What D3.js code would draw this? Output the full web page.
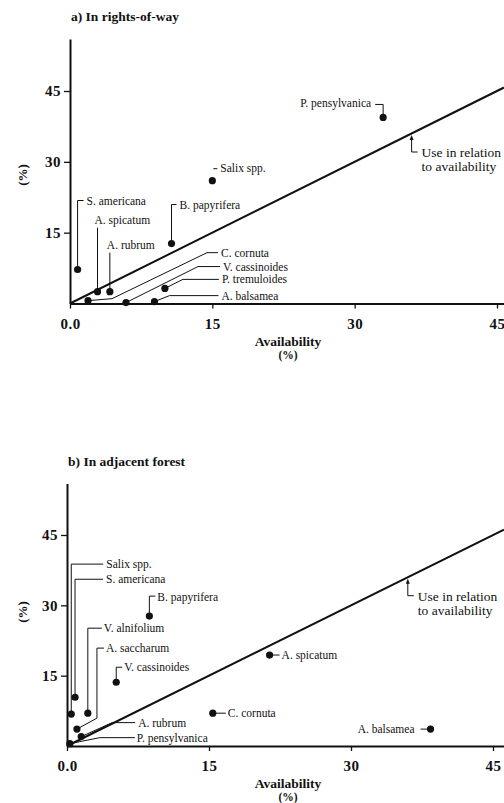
<!DOCTYPE html>
<html>
<head>
    <title></title>
    <meta charset="utf-8">
    <style>
        body { margin: 0; background: #fff; }
        text { font-family: 'Liberation Serif', 'Times New Roman', serif; fill: #111; }
    </style>
</head>
<body>
<script src="https://cdn.jsdelivr.net/npm/d3@7"></script>
<script>
    // a) rights-of-way
    var rowSpecies = ['P. pensylvanica', 'Salix spp.', 'S. americana', 'A. spicatum', 'A. rubrum',
        'B. papyrifera', 'C. cornuta', 'V. cassinoides', 'P. tremuloides', 'A. balsamea'];
    var rowAvail = [33.0, 15.0, 0.8, 2.9, 4.2, 10.7, 1.9, 5.9, 10.0, 8.9];
    var rowUse = [39.4, 26.0, 7.2, 2.5, 2.5, 12.7, 0.6, 0.2, 3.2, 0.4];

    // b) adjacent forest
    var forSpecies = ['Salix spp.', 'S. americana', 'B. papyrifera', 'V. alnifolium', 'A. saccharum',
        'V. cassinoides', 'A. spicatum', 'C. cornuta', 'A. balsamea', 'A. rubrum', 'P. pensylvanica'];
    var forAvail = [0.45, 0.85, 8.7, 2.2, 1.05, 5.2, 21.4, 15.4, 38.4, 1.5, 0.3];
    var forUse = [6.8, 10.4, 27.7, 7.0, 3.6, 13.6, 19.4, 7.0, 3.6, 2.0, 0.5];

    var xTicks = [0, 15, 30, 45];
    var yTicks = [15, 30, 45];
    var yMax = 56;
    var ratioAt = 36; // where the "use in relation" arrow meets the 1:1 line

    // label leaders, pixel offsets from each dot: path points + text spot
    var rowLabels = [
        { pts: [[0, 0], [0, -13], [-8, -13]], t: [-12, -10], anchor: 'end' },
        { pts: [[1, -12], [5, -12]], t: [8, -9] },
        { pts: [[0, 0], [0, -69], [6, -69]], t: [9, -65] },
        { pts: [[0, 0], [0, -64]], t: [-3, -68] },
        { pts: [[0, 0], [0, -39]], t: [-3, -43] },
        { pts: [[0, 0], [0, -39], [5, -39]], t: [8, -35] },
        { pts: [[0, 0], [24, -2], [119, -48], [130, -48]], t: [133, -44] },
        { pts: [[0, 0], [72, -36], [94, -36]], t: [97, -32] },
        { pts: [[0, 0], [18, -9], [54, -9]], t: [57, -5] },
        { pts: [[0, 0], [15, -6], [64, -6]], t: [67, -2] }
    ];
    var forLabels = [
        { pts: [[0, 0], [0, -150], [32, -150]], t: [35, -146] },
        { pts: [[0, 0], [0, -118], [28, -118]], t: [31, -114] },
        { pts: [[0, 0], [0, -20], [6, -20]], t: [8, -15] },
        { pts: [[0, 0], [0, -85], [14, -85]], t: [16, -81] },
        { pts: [[0, 0], [20, -11], [20, -81], [27, -81]], t: [29, -77] },
        { pts: [[0, 0], [0, -15], [6, -15]], t: [8, -11] },
        { pts: [[3, 0], [10, 0]], t: [12, 4] },
        { pts: [[3, 0], [13, 0]], t: [15, 4] },
        { pts: [[-3, 0], [-10, 0]], t: [-16, 4], anchor: 'end' },
        { pts: [[0, 0], [31, -14], [54, -14]], t: [57, -10] },
        { pts: [[0, 0], [30, -6], [65, -6]], t: [67, -2] }
    ];

    var svg = d3.select('body').append('svg')
        .attr('width', 504)
        .attr('height', 803);

    var panels = [
        { title: 'a) In rights-of-way', titleY: 21, x0: 70, x45: 497, y0: 303.5, y45: 91,
          species: rowSpecies, avail: rowAvail, use: rowUse, labels: rowLabels, yLabelY: 175 },
        { title: 'b) In adjacent forest', titleY: 466, x0: 67, x45: 493, y0: 746, y45: 535,
          species: forSpecies, avail: forAvail, use: forUse, labels: forLabels, yLabelY: 612 }
    ];

    panels.forEach(function (p) {
        var g = svg.append('g');
        var x = d3.scaleLinear().domain([0, 45]).range([p.x0, p.x45]);
        var y = d3.scaleLinear().domain([0, 45]).range([p.y0, p.y45]);
        var xEnd = x.invert(504);

        var xAxisScale = x.copy().domain([0, xEnd]).range([p.x0, 504]);
        var yAxisScale = y.copy().domain([0, yMax]).range([p.y0, y(yMax)]);

        var xa = g.append('g')
            .attr('transform', 'translate(0,' + p.y0 + ')')
            .call(d3.axisBottom(xAxisScale).tickValues(xTicks).tickSize(5).tickSizeOuter(0)
                .tickFormat(function (d) { return d === 0 ? '0.0' : d; }));
        var ya = g.append('g')
            .attr('transform', 'translate(' + p.x0 + ',0)')
            .call(d3.axisLeft(yAxisScale).tickValues(yTicks).tickSize(6).tickSizeOuter(0));

        [xa, ya].forEach(function (a) {
            a.select('.domain').attr('stroke', '#111').attr('stroke-width', 2);
            a.selectAll('.tick line').attr('stroke', '#111').attr('stroke-width', 1.3);
            a.selectAll('.tick text')
                .attr('fill', '#111')
                .style('font-family', "'Liberation Serif', 'Times New Roman', serif")
                .style('font-size', '15px')
                .style('font-weight', 'bold')
                .style('letter-spacing', '0.5px');
        });
        xa.selectAll('.tick text').attr('dy', '0').attr('y', 25);
        ya.selectAll('.tick text').attr('x', -9);

        // 1:1 line
        g.append('path')
            .datum([0, xEnd])
            .attr('fill', 'none')
            .attr('stroke', '#111')
            .attr('stroke-width', 2)
            .attr('d', d3.line().x(function (d) { return x(d); }).y(function (d) { return y(d); }));

        // titles and axis labels
        g.append('text').attr('x', p.x0 + 1).attr('y', p.titleY)
            .style('font-size', '13.5px').style('font-weight', 'bold').text(p.title);
        g.append('text').attr('x', 288).attr('y', p.y0 + 42).attr('text-anchor', 'middle')
            .style('font-size', '13.5px').style('font-weight', 'bold').text('Availability');
        g.append('text').attr('x', 288).attr('y', p.y0 + 55).attr('text-anchor', 'middle')
            .style('font-size', '11.5px').style('font-weight', 'bold').text('(%)');
        g.append('text')
            .attr('transform', 'translate(27,' + p.yLabelY + ') rotate(-90)')
            .attr('text-anchor', 'middle')
            .style('font-size', '13px').style('font-weight', 'bold').text('(%)');

        // points + labels
        var pts = p.species.map(function (s, i) {
            return { name: s, a: p.avail[i], u: p.use[i], lab: p.labels[i] };
        });

        var node = g.selectAll('g.pt').data(pts).enter().append('g')
            .attr('class', 'pt')
            .attr('transform', function (d) { return 'translate(' + x(d.a) + ',' + y(d.u) + ')'; });

        node.append('path')
            .attr('fill', 'none')
            .attr('stroke', '#111')
            .attr('stroke-width', 1)
            .attr('d', function (d) { return d3.line()(d.lab.pts); });

        node.append('circle')
            .attr('r', 3.6)
            .attr('fill', '#111');

        node.append('text')
            .attr('x', function (d) { return d.lab.t[0]; })
            .attr('y', function (d) { return d.lab.t[1]; })
            .attr('text-anchor', function (d) { return d.lab.anchor || 'start'; })
            .style('font-size', '11.5px')
            .text(function (d) { return d.name; });

        // "use in relation to availability" note
        var tx = x(ratioAt), ty = y(ratioAt) + 1.5;
        g.append('path')
            .attr('fill', '#111')
            .attr('d', 'M' + tx + ',' + ty + 'l-2,5l4,0z');
        g.append('path')
            .attr('fill', 'none')
            .attr('stroke', '#111')
            .attr('stroke-width', 1)
            .attr('d', 'M' + tx + ',' + (ty + 4) + 'V' + (ty + 17) + 'H' + (tx + 6));
        g.append('text').attr('x', tx + 10).attr('y', ty + 22)
            .style('font-size', '13.5px').text('Use in relation');
        g.append('text').attr('x', tx + 10).attr('y', ty + 36)
            .style('font-size', '13.5px').text('to availability');
    });
</script>
</body>
</html>
